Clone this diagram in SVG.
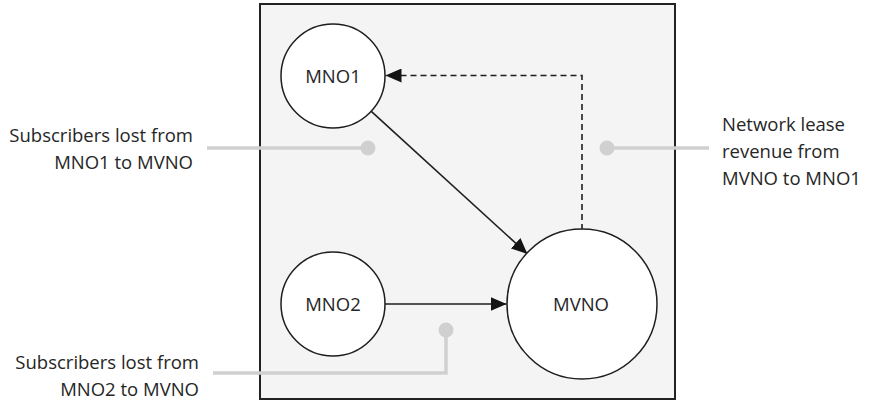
<svg xmlns="http://www.w3.org/2000/svg" width="872" height="401" viewBox="0 0 872 401">
  <style>
    .frame { fill: #f4f4f4; stroke: #222222; stroke-width: 2; }
    .node { fill: #ffffff; stroke: #1e1e1e; stroke-width: 1.5; }
    .label { font-family: "Open Sans", "Noto Sans", sans-serif; font-size: 18.5px; fill: #262626; }
    .mid { text-anchor: middle; }
    .end { text-anchor: end; }
    .edge { fill: none; stroke: #1e1e1e; stroke-width: 1.6; }
    .dashed { stroke-dasharray: 6 4; }
    .callout { fill: none; stroke: #d0d0d0; stroke-width: 3.5; }
    .dot { fill: #d0d0d0; }
  </style>
  <defs>
    <marker id="arrow" viewBox="0 0 16 14" refX="16" refY="7" markerWidth="16" markerHeight="14" markerUnits="userSpaceOnUse" orient="auto">
      <path d="M0,0 L16,7 L0,14 Z" fill="#141414"/>
    </marker>
  </defs>

  <!-- market boundary -->
  <rect class="frame" x="260" y="4" width="415" height="395"/>

  <!-- flows between operators -->
  <g id="connectors">
    <path class="edge" d="M371.3,111.3 L527.5,254" marker-end="url(#arrow)"/>
    <path class="edge" d="M385,304 L506.5,304" marker-end="url(#arrow)"/>
    <path class="edge dashed" d="M582,230 V75.5 H385.5" marker-end="url(#arrow)"/>
  </g>

  <g id="mno1">
    <circle class="node" cx="333" cy="76" r="52"/>
    <text class="label mid" x="333" y="83">MNO1</text>
  </g>
  <g id="mno2">
    <circle class="node" cx="333" cy="304" r="52"/>
    <text class="label mid" x="333" y="311">MNO2</text>
  </g>
  <g id="mvno">
    <circle class="node" cx="582" cy="304" r="75"/>
    <text class="label mid" x="581" y="311">MVNO</text>
  </g>

  <!-- annotation callouts -->
  <g id="callout-mno1">
    <path class="callout" d="M368,148 H207"/>
    <circle class="dot" cx="368" cy="148" r="7.5"/>
    <text class="label end" x="193" y="142">Subscribers lost from</text>
    <text class="label end" x="193" y="169">MNO1 to MVNO</text>
  </g>
  <g id="callout-mno2">
    <path class="callout" d="M446,330 V373 H213"/>
    <circle class="dot" cx="446" cy="330" r="7.5"/>
    <text class="label end" x="199" y="369">Subscribers lost from</text>
    <text class="label end" x="199" y="396">MNO2 to MVNO</text>
  </g>
  <g id="callout-lease">
    <path class="callout" d="M607,148 H709"/>
    <circle class="dot" cx="607" cy="148" r="7.5"/>
    <text class="label" x="722" y="131">Network lease</text>
    <text class="label" x="722" y="158">revenue from</text>
    <text class="label" x="722" y="185">MVNO to MNO1</text>
  </g>
</svg>
